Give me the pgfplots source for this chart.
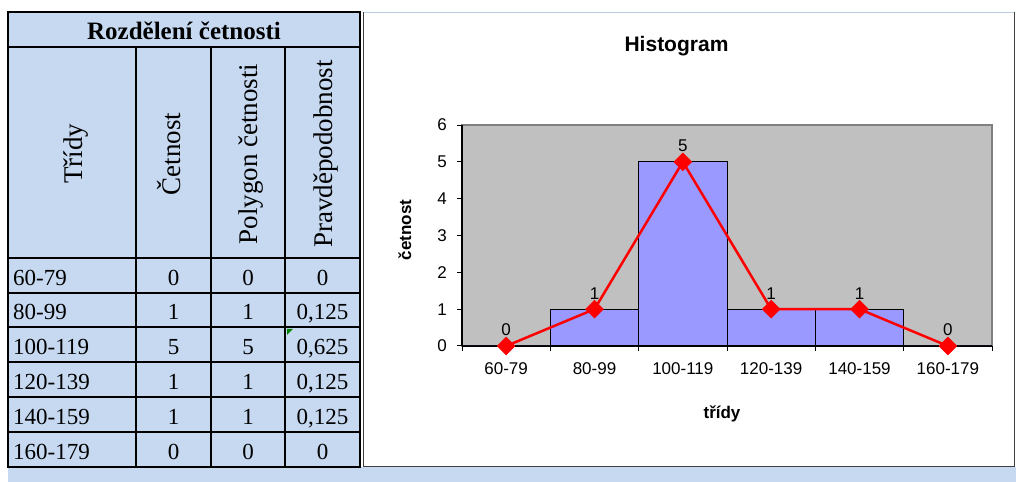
\documentclass[border=0pt]{standalone}
\usepackage{fontspec}
\setmainfont{Liberation Serif}
\newfontfamily\arial{Liberation Sans}
\usepackage{pgfplots}
\pgfplotsset{compat=1.18}
\definecolor{tblblue}{HTML}{C6D9F1}
\definecolor{plotgray}{HTML}{C0C0C0}
\definecolor{framegray}{HTML}{808080}
\definecolor{barblue}{HTML}{9999FF}
\definecolor{chartedge}{HTML}{404040}
\definecolor{topedge}{HTML}{B8CCE4}
\newcommand{\chartfont}{\arial\fontsize{17bp}{20bp}\selectfont}
\begin{document}
\begin{tikzpicture}
\path[use as bounding box] (0,0) rectangle (1016bp,482bp);
% backgrounds, in picture pixels (y downwards)
\begin{scope}[x=1bp,y=-1bp,yshift=482bp]
  \fill[tblblue] (8,12) rectangle (360,467);
  \fill[tblblue] (8,467) rectangle (1016,482);
  \fill[white] (363,12) rectangle (1015,466);
  \draw[topedge, line width=1.5bp] (363,12.5) -- (1015,12.5);
  \draw[chartedge, line width=1.5bp] (363.5,12) -- (363.5,466.5) -- (1014.5,466.5) -- (1014.5,12);
  \node[font=\arial\bfseries\fontsize{21bp}{24bp}\selectfont, anchor=base] at (676.5,52) {Histogram};
\end{scope}

\begin{axis}[
  at={(462bp,136bp)}, anchor=south west,
  scale only axis, width=530bp, height=221bp,
  xmin=0, xmax=6, ymin=0, ymax=6,
  clip=false,
  axis lines*=left,
  axis line style={black, line width=1.5bp},
  axis background/.style={fill=plotgray, draw=framegray, line width=1.5bp},
  xtick={0,...,6},
  x tick label as interval,
  xticklabels={60-79,80-99,100-119,120-139,140-159,160-179},
  ytick={0,...,6},
  tick align=outside,
  major tick length=5bp,
  tick style={black, line width=1bp},
  /pgf/number format/assume math mode=true,
  ticklabel style={font=\chartfont, black},
  xticklabel style={anchor=north, inner sep=0pt, yshift=-11bp},
  yticklabel style={anchor=east, inner sep=0pt, xshift=-10bp},
  xlabel={třídy},
  ylabel={četnost},
  label style={font=\arial\bfseries\fontsize{17bp}{20bp}\selectfont},
  xlabel style={at={(axis description cs:0.4906,0)}, anchor=base, inner sep=0pt, yshift=-72bp},
  ylabel style={at={(axis description cs:-0.0962,0.525)}, anchor=base, inner sep=0pt},
]
\addplot[ybar, bar width=1, fill=barblue, draw=black, line width=1bp]
  coordinates {(0.5,0) (1.5,1) (2.5,5) (3.5,1) (4.5,1) (5.5,0)};
\addplot[red, line width=2.5bp, mark=square*, mark size=6.3bp,
  mark options={rotate=45, fill=red, draw=red, line width=0.5bp},
  nodes near coords,
  every node near coord/.append style={font=\chartfont, black, anchor=base, inner sep=0pt, yshift=10bp}]
  coordinates {(0.5,0) (1.5,1) (2.5,5) (3.5,1) (4.5,1) (5.5,0)};
\end{axis}

% frequency table
\begin{scope}[x=1bp,y=-1bp,yshift=482bp]
  \fill[green!50!black] (287,329) -- (293,329) -- (287,335) -- cycle;
  \begin{scope}[line width=2.5bp, black]
    \draw (8,12) rectangle (360,467);
    \foreach \yy in {47,258,293,327,362,397,432}
      \draw (8,\yy) -- (360,\yy);
    \foreach \xx in {136,211,285}
      \draw (\xx,47) -- (\xx,467);
  \end{scope}
  \node[font=\bfseries\fontsize{25bp}{28bp}\selectfont, anchor=base] at (184,40) {Rozdělení četnosti};
  \begin{scope}[every node/.style={font=\fontsize{27bp}{30bp}\selectfont, rotate=90, anchor=base}]
    \node at (82,154) {Třídy};
    \node at (180,154) {Četnost};
    \node at (257,154) {Polygon četnosti};
    \node at (332,154) {Pravděpodobnost};
  \end{scope}
  \begin{scope}[every node/.style={font=\fontsize{23bp}{26bp}\selectfont, anchor=base, inner sep=0pt}]
    \foreach \yb/\cl/\f/\p/\pr in {286/60-79/0/0/0, 320/80-99/1/1/{0,125}, 355/100-119/5/5/{0,625},
        390/120-139/1/1/{0,125}, 425/140-159/1/1/{0,125}, 460/160-179/0/0/0} {
      \node[anchor=base west] at (13,\yb) {\cl};
      \node at (173.5,\yb) {\f};
      \node at (248,\yb) {\p};
      \node at (322.5,\yb) {\pr};
    }
  \end{scope}
\end{scope}
\end{tikzpicture}
\end{document}
